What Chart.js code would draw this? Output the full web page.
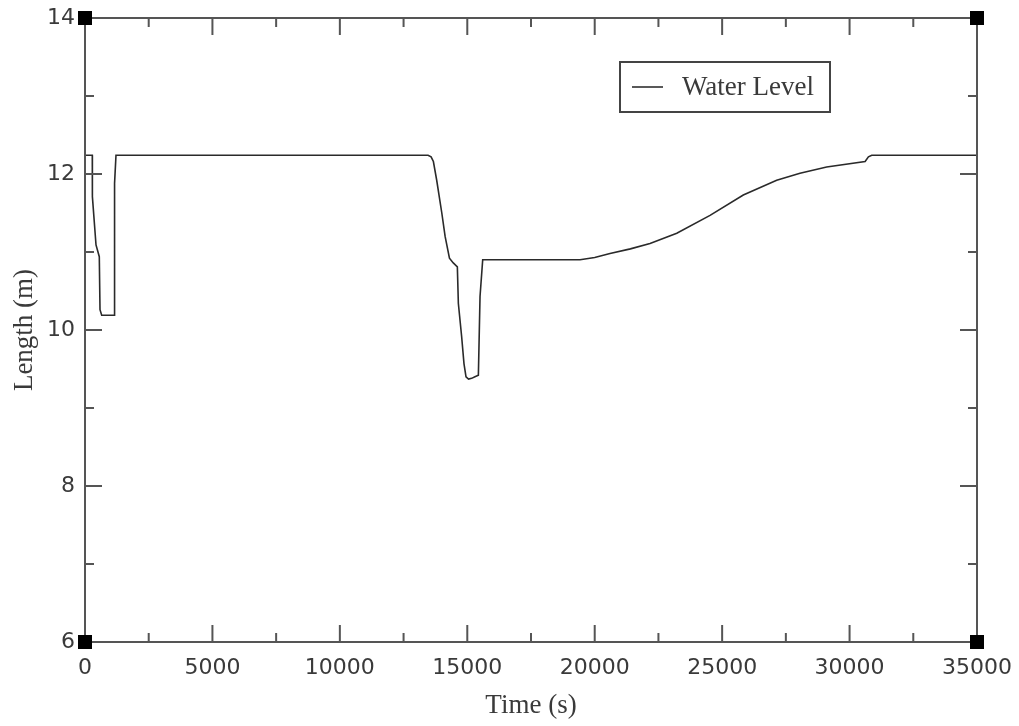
<!DOCTYPE html>
<html>
<head>
<meta charset="utf-8">
<script src="https://cdn.jsdelivr.net/npm/chart.js@4/dist/chart.umd.min.js"></script>
<style>
  html, body { margin: 0; padding: 0; background: #fff; }
  #wrap { width: 1019px; height: 726px; }
</style>
</head>
<body>
<div id="wrap"><canvas id="grafico" width="1019" height="726"></canvas></div>
<script>
// datos
const seriesLabel = "Water Level";
const timeS = [0, 286, 290, 432, 561, 589, 655, 1150, 1160, 1216,
  13460, 13580, 13670, 13800, 14000, 14130, 14300, 14450, 14610, 14650,
  14780, 14870, 14950, 15050, 15170, 15300, 15435, 15500, 15605,
  19425, 20000, 20600, 21400, 22170, 23220, 24525, 25830, 27140, 28055,
  29100, 30610, 30740, 30870, 35000];
const levelM = [12.24, 12.24, 11.71, 11.09, 10.94, 10.26, 10.19, 10.19, 11.88, 12.24,
  12.24, 12.22, 12.16, 11.92, 11.5, 11.2, 10.92, 10.86, 10.81, 10.34,
  9.91, 9.57, 9.40, 9.37, 9.38, 9.40, 9.42, 10.43, 10.90,
  10.90, 10.93, 10.98, 11.04, 11.11, 11.24, 11.47, 11.73, 11.92, 12.01,
  12.09, 12.16, 12.22, 12.24, 12.24];
const xTitle = "Time (s)";
const yTitle = "Length (m)";

const ejeColor = "#555";
const textoColor = "#3a3a3a";

// marco, ticks hacia dentro, cuadrados en esquinas y leyenda con caja
const marcoPlugin = {
  id: "marco",
  afterDraw(chart) {
    const { ctx, chartArea: a, scales } = chart;
    ctx.save();
    ctx.strokeStyle = ejeColor;
    ctx.lineWidth = 2;
    ctx.strokeRect(a.left, a.top, a.right - a.left, a.bottom - a.top);

    const xs = scales.x, ys = scales.y;
    const xt = xs.ticks.map(t => t.value);
    const yt = ys.ticks.map(t => t.value);
    ctx.beginPath();
    xt.forEach((v, i) => {
      const px = xs.getPixelForValue(v);
      ctx.moveTo(px, a.bottom); ctx.lineTo(px, a.bottom - 17);
      ctx.moveTo(px, a.top); ctx.lineTo(px, a.top + 17);
      if (i < xt.length - 1) {
        const pm = xs.getPixelForValue((v + xt[i + 1]) / 2);
        ctx.moveTo(pm, a.bottom); ctx.lineTo(pm, a.bottom - 9);
        ctx.moveTo(pm, a.top); ctx.lineTo(pm, a.top + 9);
      }
    });
    yt.forEach((v, i) => {
      const py = ys.getPixelForValue(v);
      ctx.moveTo(a.left, py); ctx.lineTo(a.left + 17, py);
      ctx.moveTo(a.right, py); ctx.lineTo(a.right - 17, py);
      if (i < yt.length - 1) {
        const pm = ys.getPixelForValue((v + yt[i + 1]) / 2);
        ctx.moveTo(a.left, pm); ctx.lineTo(a.left + 9, pm);
        ctx.moveTo(a.right, pm); ctx.lineTo(a.right - 9, pm);
      }
    });
    ctx.stroke();

    ctx.fillStyle = "#000";
    [[a.left, a.top], [a.right, a.top], [a.left, a.bottom], [a.right, a.bottom]].forEach(([x, y]) => {
      ctx.fillRect(x - 7, y - 7, 14, 14);
    });

    // leyenda
    const lx = 620, ly = 62, lw = 210, lh = 50;
    ctx.fillStyle = "#fff";
    ctx.fillRect(lx, ly, lw, lh);
    ctx.strokeStyle = "#444";
    ctx.lineWidth = 2;
    ctx.strokeRect(lx, ly, lw, lh);
    ctx.strokeStyle = "#222";
    ctx.lineWidth = 1.5;
    ctx.beginPath();
    ctx.moveTo(lx + 12, ly + 25); ctx.lineTo(lx + 43, ly + 25);
    ctx.stroke();
    ctx.fillStyle = textoColor;
    ctx.font = "27px 'Liberation Serif'";
    ctx.textBaseline = "middle";
    ctx.fillText(chart.data.datasets[0].label, lx + 62, ly + 26);
    ctx.restore();
  }
};

const ctx = document.getElementById("grafico").getContext("2d");
new Chart(ctx, {
  type: "line",
  data: {
    datasets: [{
      label: seriesLabel,
      data: timeS.map((t, i) => ({ x: t, y: levelM[i] })),
      borderColor: "#2a2a2a",
      borderWidth: 1.6,
      pointRadius: 0,
      fill: false,
      tension: 0
    }]
  },
  options: {
    responsive: false,
    animation: false,
    layout: { padding: { top: 18, right: 42, left: 0, bottom: 0 } },
    plugins: { legend: { display: false }, tooltip: { enabled: false } },
    scales: {
      x: {
        type: "linear",
        min: 0, max: 35000,
        ticks: { stepSize: 5000, color: textoColor, font: { family: "'DejaVu Sans'", size: 22 }, padding: 13, maxRotation: 0,
          callback: v => String(v) },
        grid: { display: false, drawTicks: false },
        border: { display: false },
        title: { display: true, text: xTitle, color: textoColor, font: { family: "'Liberation Serif'", size: 27 }, padding: { top: 0, bottom: 4 } },
        afterFit(s) { s.height = 84; s.paddingLeft = 0; s.paddingRight = 0; }
      },
      y: {
        min: 6, max: 14,
        ticks: { stepSize: 2, color: textoColor, font: { family: "'DejaVu Sans'", size: 22 }, padding: 10 },
        grid: { display: false, drawTicks: false },
        border: { display: false },
        title: { display: true, text: yTitle, color: textoColor, font: { family: "'Liberation Serif'", size: 27 }, padding: { top: 9, bottom: 0 } },
        afterFit(s) { s.width = 85; s.paddingTop = 0; s.paddingBottom = 0; }
      }
    }
  },
  plugins: [marcoPlugin]
});
</script>
</body>
</html>
